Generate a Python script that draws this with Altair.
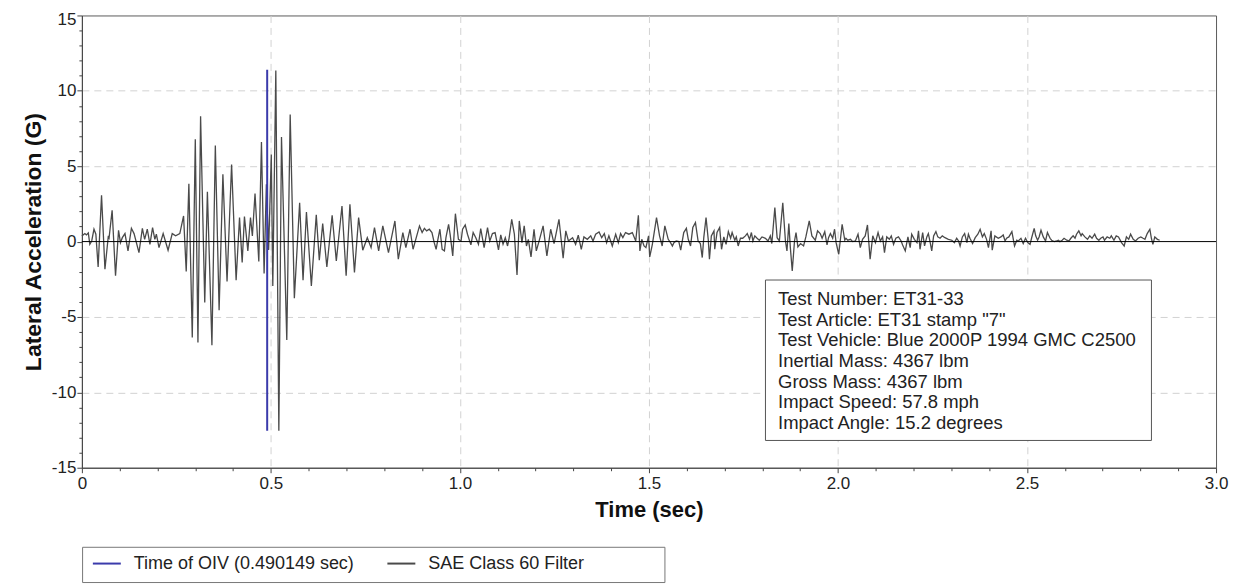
import altair as alt
import pandas as pd

# ---------------- data ----------------
oiv_label = "Time of OIV (0.490149 sec)"
sae_label = "SAE Class 60 Filter"
oiv_time = 0.490149
oiv_low = -12.55
oiv_high = 11.4
zero_level = [0.0]

# (time s, lateral acceleration G) pairs, segment by segment
seg_pre_impact = [
    (0.000, 0.38), (0.008, 0.53), (0.012, 0.44), (0.017, 0.57), (0.021, -0.18), (0.026, 0.04),
    (0.032, 0.82), (0.037, 0.49), (0.043, -1.68), (0.052, 3.07), (0.061, -1.83), (0.070, 0.38),
    (0.072, 0.26), (0.080, 2.08), (0.089, -2.27), (0.097, 0.75), (0.102, -0.07), (0.107, 0.26),
    (0.114, 0.53), (0.122, -0.62), (0.131, 0.88), (0.138, 0.53), (0.151, -0.73), (0.160, 0.88),
    (0.166, 0.15), (0.173, 0.82), (0.180, -0.18), (0.187, 0.93), (0.193, 0.15), (0.197, 0.49),
    (0.204, -0.40), (0.215, 0.53), (0.228, -0.57), (0.239, 0.53), (0.248, 0.38), (0.259, 0.53),
]
seg_first_hit = [
    (0.269, 1.70), (0.276, -1.99), (0.283, 3.84), (0.292, -6.36), (0.300, 6.78), (0.307, -6.69),
    (0.314, 8.32), (0.325, -4.04), (0.332, 3.31), (0.344, -6.87), (0.353, 6.38), (0.363, -4.55),
    (0.373, 4.46), (0.384, -2.65), (0.396, 5.12), (0.408, -2.56), (0.417, 1.59), (0.424, -1.39),
    (0.430, 1.66), (0.439, -0.62), (0.446, 1.59), (0.451, 0.38), (0.458, 3.18), (0.468, -1.32),
    (0.475, 6.60), (0.482, -2.12), (0.488, 3.80),
]
seg_second_hit = [
    (0.494, -0.55), (0.501, 5.78), (0.505, -2.94), (0.513, 11.35), (0.521, -12.55), (0.528, 6.93),
    (0.542, -6.53), (0.551, 8.43), (0.562, -3.75), (0.576, 2.57), (0.585, -2.56), (0.594, 1.96),
    (0.607, -2.94), (0.620, 1.77), (0.628, -1.24), (0.637, 1.19), (0.648, -1.68), (0.662, 1.74),
    (0.673, -1.28), (0.688, 2.36), (0.699, -2.27), (0.709, 2.47), (0.721, -2.05), (0.732, 1.59),
    (0.743, -0.57), (0.755, 0.26), (0.765, -0.40), (0.774, 0.93), (0.785, -0.62), (0.796, 1.04),
    (0.811, -0.73), (0.828, 1.37), (0.837, -1.17), (0.849, 0.60), (0.857, -0.40), (0.868, 0.82),
    (0.876, -0.51),
]
seg_mid = [
    (0.893, 1.04), (0.900, 0.60), (0.906, 0.88), (0.912, 0.71), (0.919, 0.82), (0.926, 0.60),
    (0.932, -0.07), (0.937, -0.51), (0.941, 0.04), (0.947, 0.82), (0.953, -0.51), (0.959, -0.62),
    (0.963, 0.26), (0.970, 1.15), (0.974, 0.49), (0.981, -0.95), (0.988, 1.85), (0.996, 0.15),
    (1.003, 0.04), (1.007, 0.82), (1.014, 1.10), (1.020, 0.49), (1.029, -0.22), (1.035, 0.60),
    (1.042, 0.26), (1.049, -0.18), (1.055, 0.86), (1.064, -0.40), (1.073, 0.93), (1.079, 0.04),
    (1.086, 0.53), (1.093, 0.60), (1.102, -0.55), (1.108, 0.44), (1.114, -0.18), (1.120, 0.26),
    (1.126, -0.29), (1.130, 0.22), (1.137, 1.48), (1.144, 0.49), (1.151, -2.21), (1.157, 1.37),
    (1.164, -0.07), (1.170, 1.04), (1.176, -0.29), (1.181, 0.15), (1.188, -1.02), (1.196, 0.82),
    (1.202, -0.62), (1.209, 0.00), (1.220, 1.04), (1.230, -0.95), (1.240, 0.82), (1.249, -0.13),
    (1.262, 1.48), (1.273, -1.10), (1.280, 0.71), (1.287, 0.04), (1.298, 0.26), (1.306, -0.18),
    (1.313, 0.42), (1.321, -0.51), (1.328, 0.31), (1.337, 0.15), (1.346, 0.38), (1.352, 0.04),
    (1.359, 0.49), (1.368, 0.64), (1.375, 0.26), (1.382, 0.53), (1.388, -0.07), (1.394, 0.38),
    (1.403, -0.29), (1.412, 0.49), (1.419, -0.07), (1.425, 0.53), (1.431, 0.26), (1.438, 0.60),
    (1.447, 0.49), (1.456, 0.60), (1.465, 0.04), (1.472, 1.74), (1.476, -0.62), (1.481, 0.15),
    (1.487, -0.29), (1.492, -0.40), (1.499, 0.38), (1.502, -1.02), (1.509, -0.18), (1.520, 1.59),
    (1.528, 0.38), (1.535, -0.29), (1.542, 1.04), (1.551, 0.15),
]
seg_late = [
    (1.557, -0.07), (1.562, -0.29), (1.566, -0.07), (1.572, 0.04), (1.579, 0.00), (1.584, -0.57),
    (1.592, 0.60), (1.599, 0.88), (1.604, 0.15), (1.610, -0.29), (1.616, 0.93), (1.623, 1.26),
    (1.630, 0.04), (1.636, -0.13), (1.641, -1.06), (1.645, 0.26), (1.651, 1.59), (1.657, 0.09),
    (1.660, -1.17), (1.665, 0.38), (1.672, 0.71), (1.674, -0.51), (1.680, 0.60), (1.687, 0.93),
    (1.692, -0.51), (1.698, 0.31), (1.704, -0.18), (1.710, 0.66), (1.716, 0.22), (1.720, 0.60),
    (1.727, 0.09), (1.731, 0.31), (1.736, -0.29), (1.742, 0.22), (1.748, 0.22), (1.755, 0.38),
    (1.760, 0.53), (1.766, 0.15), (1.771, 0.60), (1.775, 0.04), (1.780, 0.38), (1.786, 0.22),
    (1.792, 0.09), (1.799, 0.31), (1.808, 0.22), (1.815, 0.04), (1.821, 0.38), (1.825, -0.13),
    (1.833, 2.25), (1.839, 0.26), (1.845, 0.04), (1.854, 2.58), (1.861, 0.04), (1.865, -0.62),
    (1.870, 1.19), (1.874, -0.40), (1.879, -1.94), (1.885, 0.04), (1.889, 0.60), (1.894, -0.35),
    (1.901, -0.13), (1.909, -0.29), (1.915, 0.31), (1.924, 1.37), (1.931, 0.38), (1.940, 0.09),
    (1.946, 0.71), (1.953, 0.53), (1.958, 0.22), (1.965, 0.66), (1.971, -0.22), (1.975, 0.26),
    (1.980, 0.53), (1.986, 0.22), (1.991, 0.82), (1.995, -0.07), (2.002, -0.84), (2.011, 1.15),
    (2.018, 0.09), (2.021, 0.22), (2.026, 0.09), (2.033, 0.15), (2.039, 0.00), (2.046, 0.04),
    (2.053, 0.49), (2.059, -0.40), (2.065, 0.15), (2.072, 0.38), (2.078, 1.10), (2.085, -1.17),
    (2.092, 0.38), (2.099, -0.07), (2.106, 0.60), (2.112, 0.04), (2.118, 0.31), (2.123, -0.73),
    (2.129, 0.31), (2.136, 0.15), (2.141, 0.38), (2.147, -0.18), (2.153, 0.22), (2.160, 0.31),
]
seg_tail = [
    (2.167, 0.04), (2.171, -0.22), (2.178, -0.62), (2.185, 0.31), (2.191, -0.40), (2.195, 0.49),
    (2.202, 0.15), (2.209, -0.07), (2.213, 0.71), (2.217, -0.51), (2.224, 0.60), (2.229, -0.29),
    (2.235, 0.31), (2.239, 0.53), (2.244, -0.07), (2.248, -0.62), (2.253, 0.38), (2.259, 0.66),
    (2.264, 0.31), (2.270, 0.22), (2.276, 0.38), (2.283, 0.26), (2.292, 0.15), (2.301, 0.09),
    (2.308, -0.07), (2.314, 0.22), (2.319, 0.04), (2.323, -0.29), (2.329, 0.31), (2.335, 0.53),
    (2.341, -0.07), (2.345, 0.49), (2.349, 0.22), (2.356, -0.13), (2.363, 0.26), (2.370, 0.49),
    (2.376, 0.82), (2.382, 0.31), (2.387, 0.53), (2.393, 0.15), (2.398, -0.40), (2.405, 0.71),
    (2.408, -0.57), (2.415, 0.38), (2.424, 0.22), (2.431, 0.31), (2.437, 0.44), (2.442, 0.04),
    (2.446, 0.22), (2.452, 0.31), (2.460, 0.66), (2.467, -0.29), (2.473, 0.09), (2.477, 0.04),
    (2.484, 0.22), (2.490, -0.13), (2.496, 0.22), (2.502, -0.07), (2.508, -0.18), (2.512, 0.22),
    (2.519, 0.88), (2.523, 0.38), (2.528, 0.09), (2.532, 0.31), (2.537, 0.75), (2.543, 0.31),
    (2.549, 0.04), (2.554, 0.60), (2.561, 0.22), (2.565, 0.09), (2.572, 0.00), (2.578, 0.04),
    (2.583, 0.09), (2.587, 0.00), (2.593, 0.09), (2.598, 0.22), (2.605, 0.09), (2.611, 0.04),
    (2.616, 0.22), (2.622, 0.38), (2.627, 0.22), (2.631, 0.49), (2.637, 0.71), (2.643, 0.38),
    (2.646, 0.53), (2.653, 0.31), (2.660, 0.15), (2.666, 0.38), (2.672, 0.22), (2.679, 0.49),
    (2.684, 0.22), (2.690, 0.09), (2.695, 0.22), (2.701, 0.31), (2.705, 0.09), (2.712, 0.31),
    (2.719, 0.22), (2.723, 0.38), (2.730, 0.09), (2.736, 0.38), (2.742, 0.31), (2.750, -0.07),
    (2.757, -0.29), (2.763, 0.31), (2.769, 0.15), (2.774, 0.49), (2.781, 0.15), (2.787, 0.04),
    (2.794, 0.22), (2.801, 0.31), (2.807, 0.22), (2.812, 0.15), (2.818, 0.53), (2.825, 0.82),
    (2.829, 0.22), (2.833, -0.18), (2.838, 0.31), (2.845, 0.15), (2.851, 0.09),
]

info_lines = [
    "Test Number: ET31-33",
    'Test Article: ET31 stamp "7"',
    "Test Vehicle: Blue 2000P 1994 GMC C2500",
    "Inertial Mass: 4367 lbm",
    "Gross Mass: 4367 lbm",
    "Impact Speed: 57.8 mph",
    "Impact Angle: 15.2 degrees",
]

x_tick_values = [round(i * 0.1, 1) for i in range(31)]
y_tick_values = list(range(-15, 16))

# ---------------- build tables ----------------
signal = seg_pre_impact + seg_first_hit + seg_second_hit + seg_mid + seg_late + seg_tail
sae_df = pd.DataFrame(signal, columns=["t", "v"])
sae_df["series"] = sae_label
oiv_df = pd.DataFrame({"t": [oiv_time], "lo": [oiv_low], "hi": [oiv_high], "series": [oiv_label]})
zero_df = pd.DataFrame({"v": zero_level})
one_row = pd.DataFrame({"k": [0]})

FONT = "Liberation Sans"
W, H = 1136, 453
BLUE = "#3b3bab"
GRAY = "#4a4a4a"

x_scale = alt.Scale(domain=[0, 3], nice=False, zero=False)
y_scale = alt.Scale(domain=[-15, 15], nice=False)
color_scale = alt.Scale(domain=[oiv_label, sae_label], range=[BLUE, GRAY])

x_major = "abs(datum.value * 2 - round(datum.value * 2)) < 0.001"
y_major = "abs(datum.value) % 5 == 0"

x_axis = alt.Axis(
    values=x_tick_values,
    title="Time (sec)",
    labelExpr=f"({x_major}) ? (datum.value == 0 ? '0' : format(datum.value, '.1f')) : ''",
    labelOverlap=False,
    labelFlush=False,
    labelFontSize=17,
    labelPadding=3,
    tickSize={"condition": {"test": x_major, "value": 5}, "value": 3},
    grid=True,
    gridOpacity={"condition": {"test": f"({x_major}) && datum.value > 0.01 && datum.value < 2.99", "value": 1}, "value": 0},
    gridDash=[7, 5],
    gridColor="#d2d2d2",
    titleFontSize=22,
    titleFontWeight="bold",
    titlePadding=8,
)
y_axis = alt.Axis(
    values=y_tick_values,
    title="Lateral Acceleration (G)",
    labelExpr=f"({y_major}) ? ('' + datum.value) : ''",
    labelOverlap=False,
    labelFlush=False,
    labelFontSize=17,
    labelPadding=1,
    labelOffset={"condition": {"test": "datum.value == 15", "value": 4}, "value": 0},
    tickSize={"condition": {"test": y_major, "value": 5}, "value": 3},
    grid=True,
    gridOpacity={"condition": {"test": f"({y_major}) && abs(datum.value) < 15 && datum.value != 0", "value": 1}, "value": 0},
    gridDash=[7, 5],
    gridColor="#d2d2d2",
    titleFontSize=23,
    titleFontWeight="bold",
    titlePadding=6,
)

legend = alt.Legend(
    orient="none",
    legendX=10,
    legendY=534,
    direction="horizontal",
    title=None,
    symbolType="stroke",
    symbolSize=784,
    symbolStrokeWidth=2,
    labelFontSize=18,
    labelFont=FONT,
    labelColor="#222222",
    labelLimit=500,
    labelOffset=12,
    columnPadding=29,
    padding=0,
)
color_enc = alt.Color("series:N", scale=color_scale, legend=legend)

sae_line = alt.Chart(sae_df).mark_line(strokeWidth=1.3).encode(
    x=alt.X("t:Q", scale=x_scale, axis=x_axis),
    y=alt.Y("v:Q", scale=y_scale, axis=y_axis),
    color=color_enc,
)

zero_line = alt.Chart(zero_df).mark_rule(color="#000000", strokeWidth=1).encode(
    y=alt.Y("v:Q", scale=y_scale, axis=y_axis),
)

oiv_rule = alt.Chart(oiv_df).mark_rule(strokeWidth=2).encode(
    x=alt.X("t:Q", scale=x_scale, axis=x_axis),
    y=alt.Y("lo:Q", scale=y_scale, axis=y_axis),
    y2="hi:Q",
    color=color_enc,
)

info_box = alt.Chart(one_row).mark_rect(fill="white", stroke="#555555", strokeWidth=1).encode(
    x=alt.value(684.7), x2=alt.value(1071.3), y=alt.value(265), y2=alt.value(425.7)
)
info_text = alt.Chart(one_row).mark_text(
    text=info_lines, align="left", baseline="top", font=FONT, fontSize=18.5,
    lineHeight=20.7, color="#222222",
).encode(x=alt.value(697.3), y=alt.value(275))

legend_box = alt.Chart(one_row).mark_rect(fill="white", stroke="#777777", strokeWidth=1).encode(
    x=alt.value(0.7), x2=alt.value(584), y=alt.value(532.7), y2=alt.value(568)
)

chart = alt.layer(
    sae_line, zero_line, oiv_rule, info_box, info_text, legend_box
).properties(
    width=W, height=H,
    autosize=alt.AutoSizeParams(type="none"),
    padding={"left": 74, "top": 7, "right": 20, "bottom": 117},
    background="white",
).configure_view(
    stroke="#5a5a5a", strokeWidth=1
).configure_axis(
    labelFont=FONT, titleFont=FONT, labelColor="#222222", titleColor="#111111",
    domainColor="#444444", tickColor="#444444",
)

chart.save("out.html", embed_options={"renderer": "svg", "actions": False})
